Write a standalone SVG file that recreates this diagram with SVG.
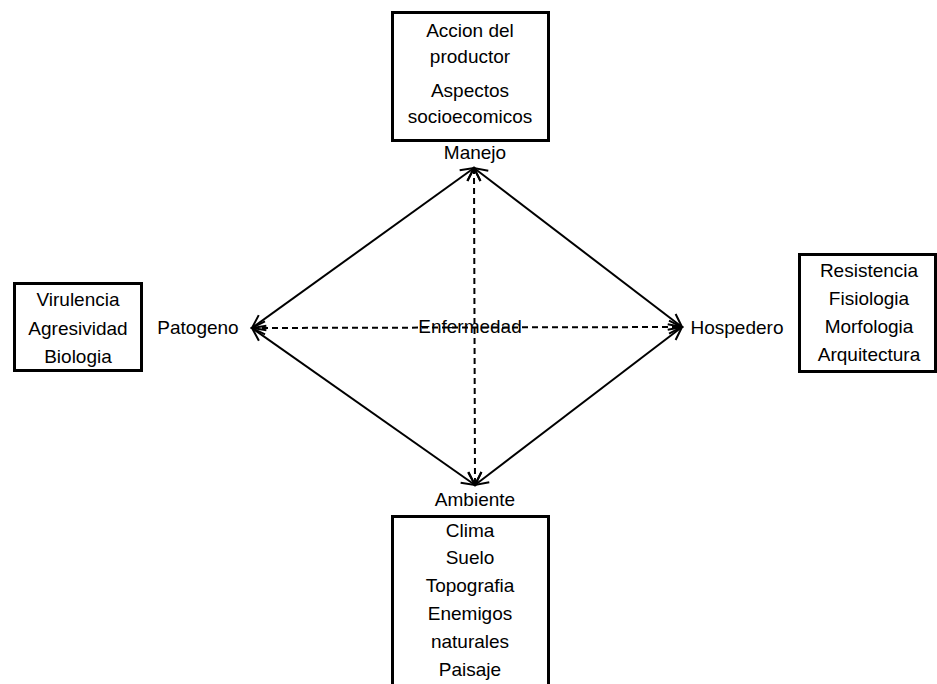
<svg xmlns="http://www.w3.org/2000/svg" width="937" height="684" viewBox="0 0 937 684">
<style>
text{font-family:"Liberation Sans",Arial,sans-serif;font-size:19px;fill:#000;text-anchor:middle}
.box{fill:#fff;stroke:#000;stroke-width:3}
.ln{stroke:#000;stroke-width:2;fill:none;marker-start:url(#ah);marker-end:url(#ah)}
.dash{stroke-dasharray:6 4}
</style>
<defs>
<marker id="ah" markerUnits="userSpaceOnUse" viewBox="0 0 16 16" markerWidth="16" markerHeight="16" refX="14" refY="8" orient="auto-start-reverse">
<path d="M1,1.5 L14,8 L1,14.5" fill="none" stroke="#000" stroke-width="2"/>
</marker>
</defs>
<rect width="937" height="684" fill="#fff"/>
<g id="connectors">
<line class="ln" x1="474" y1="168" x2="252" y2="328"/>
<line class="ln" x1="474" y1="168" x2="682" y2="327"/>
<line class="ln" x1="475" y1="485" x2="252" y2="328"/>
<line class="ln" x1="475" y1="485" x2="682" y2="327"/>
<line class="ln dash" x1="252" y1="328" x2="682" y2="327"/>
<line class="ln dash" x1="474" y1="168" x2="475" y2="485"/>
</g>
<g id="enfermedad"><text x="470" y="333">Enfermedad</text></g>
<g id="manejo-box">
<rect class="box" x="392.5" y="12.5" width="156" height="128"/>
<text x="470" y="37">Accion del</text>
<text x="470" y="63">productor</text>
<text x="470" y="97">Aspectos</text>
<text x="470" y="123">socioecomicos</text>
</g>
<g id="manejo"><text x="475" y="159">Manejo</text></g>
<g id="patogeno-box">
<rect class="box" x="14.5" y="283.5" width="127" height="87"/>
<text x="78" y="306">Virulencia</text>
<text x="78" y="335">Agresividad</text>
<text x="78" y="363">Biologia</text>
</g>
<g id="patogeno"><text x="198" y="334">Patogeno</text></g>
<g id="hospedero"><text x="737" y="334">Hospedero</text></g>
<g id="hospedero-box">
<rect class="box" x="799.5" y="254.5" width="136" height="117"/>
<text x="869" y="277">Resistencia</text>
<text x="869" y="305">Fisiologia</text>
<text x="869" y="333">Morfologia</text>
<text x="869" y="361">Arquitectura</text>
</g>
<g id="ambiente"><text x="475" y="506">Ambiente</text></g>
<g id="ambiente-box">
<rect class="box" x="392.5" y="516.5" width="156" height="180"/>
<text x="470" y="537">Clima</text>
<text x="470" y="564">Suelo</text>
<text x="470" y="592">Topografia</text>
<text x="470" y="620">Enemigos</text>
<text x="470" y="648">naturales</text>
<text x="470" y="676">Paisaje</text>
</g>
</svg>
